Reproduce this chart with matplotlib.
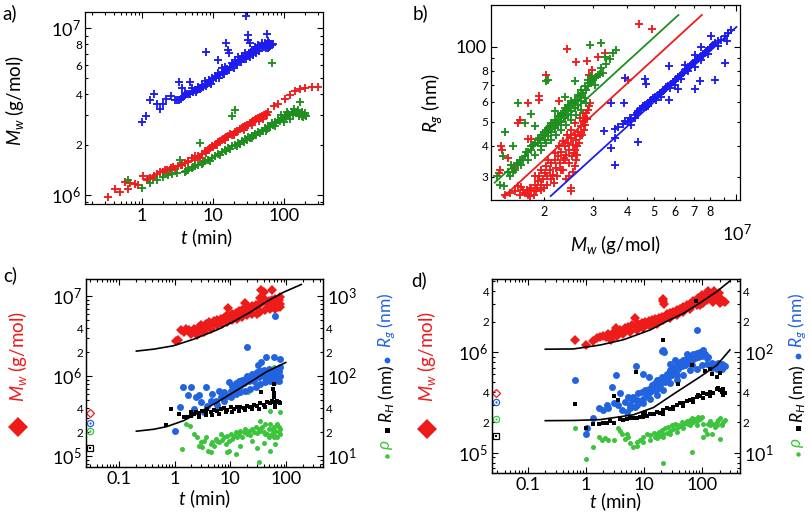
import numpy as np
import matplotlib
matplotlib.use("Agg")
import matplotlib.pyplot as plt
from matplotlib.lines import Line2D
from matplotlib.ticker import LogLocator, FuncFormatter, NullFormatter
import matplotlib.transforms as mtransforms

# ---------------- data ----------------
# panel a: t (min), Mw (10^6 g/mol)
a_blue = [(0.99, 2.75), (1.14, 2.95), (1.48, 4.02), (1.30, 3.72), (1.61, 3.52), (1.79, 3.27),
          (1.95, 3.50), (2.18, 3.75), (2.56, 3.89), (2.92, 3.72), (3.36, 4.72), (3.62, 4.37),
          (4.03, 4.07), (4.74, 4.72), (5.01, 4.37), (5.58, 4.27), (6.21, 4.43), (6.92, 4.57),
          (7.96, 7.24), (7.71, 4.79), (8.78, 4.90), (9.58, 5.01), (10.7, 5.13), (11.6, 6.40),
          (11.9, 5.37), (13.2, 5.75), (15.4, 8.20), (16.4, 7.41), (16.8, 7.08), (14.8, 5.83),
          (18.3, 6.17), (20.4, 6.46), (22.7, 6.70), (25.3, 6.76), (28.2, 7.08), (29.5, 11.75),
          (30.8, 9.12), (31.5, 8.51), (33.2, 8.13), (35.1, 7.41), (39.1, 7.69), (43.5, 7.94),
          (48.4, 8.13), (54.0, 8.13), (57.0, 9.25), (58.9, 7.94), (60.1, 8.32),
          (3.1, 3.7), (3.5, 3.75), (3.8, 3.85), (4.3, 4.0), (4.6, 4.05), (5.3, 4.15), (6.0, 4.25),
          (6.5, 4.3), (7.3, 4.45), (8.2, 4.6), (9.0, 4.75), (10.0, 4.9), (11.0, 5.0), (12.5, 5.2),
          (13.8, 5.4), (15.0, 5.55), (16.0, 5.7), (17.5, 5.85), (19.0, 6.0), (21.0, 6.2),
          (23.5, 6.4), (26.0, 6.6), (27.5, 6.55), (30.0, 6.9), (32.0, 7.0), (34.0, 7.15),
          (36.5, 7.2), (38.0, 7.35), (41.0, 7.5), (45.0, 7.6), (47.0, 7.75), (50.0, 7.8),
          (52.0, 7.7), (55.0, 7.9), (58.0, 8.0), (62.0, 8.1), (64.0, 7.85), (66.0, 8.0),
          (68.0, 7.95), (70.0, 8.0), (62.0, 7.7), (60.0, 7.6), (56.0, 7.55), (44.0, 7.3),
          (40.0, 7.1), (37.0, 6.9), (33.0, 6.75), (29.0, 6.5), (25.0, 6.3), (22.0, 6.05),
          (19.5, 5.8), (17.0, 5.6), (14.5, 5.3), (12.0, 5.05), (9.5, 4.65), (8.0, 4.5),
          (6.8, 4.35), (5.7, 4.15), (4.8, 4.0), (4.0, 3.95), (3.3, 3.7)]
a_red = [(0.336, 0.968), (0.417, 1.087), (0.490, 1.033), (0.576, 1.20), (0.642, 1.087),
         (0.678, 1.175), (0.797, 1.164), (0.888, 1.148), (1.04, 1.288), (1.16, 1.219),
         (1.30, 1.259), (1.44, 1.259), (1.61, 1.336), (1.79, 1.361), (2.0, 1.368), (2.22, 1.40),
         (2.48, 1.413), (2.76, 1.466), (2.92, 1.426), (3.25, 1.479), (3.62, 1.514), (4.03, 1.549),
         (4.49, 1.585), (5.01, 1.66), (5.58, 1.70), (6.21, 1.714), (6.92, 1.762), (7.71, 1.82),
         (8.59, 1.862), (9.58, 1.95), (10.7, 1.995), (11.9, 2.06), (13.2, 2.12), (14.8, 2.19),
         (16.4, 2.24), (18.3, 2.29), (20.4, 2.37), (22.7, 2.43), (25.3, 2.51), (28.2, 2.57),
         (31.5, 2.63), (35.1, 2.72), (39.1, 2.82), (43.5, 2.88), (48.4, 2.95), (60.1, 3.16),
         (73.1, 3.39), (83.2, 3.52), (103, 3.75), (122, 3.98), (143, 4.17), (168, 4.31),
         (198, 4.37), (245, 4.43), (305, 4.41),
         (8.0, 1.78), (9.0, 1.90), (10.0, 1.93), (11.0, 2.02), (12.5, 2.10), (14.0, 2.15),
         (15.5, 2.22), (17.5, 2.30), (19.5, 2.33), (21.5, 2.40), (24.0, 2.47), (26.5, 2.55),
         (30.0, 2.62), (33.0, 2.70), (37.0, 2.76), (41.0, 2.85), (46.0, 2.92), (52.0, 3.0),
         (55.0, 3.05), (58.0, 3.02), (50.0, 2.85), (44.0, 2.78), (36.0, 2.62), (27.0, 2.45),
         (20.0, 2.28), (15.0, 2.12), (11.5, 1.98), (6.5, 1.66), (5.5, 1.62), (4.5, 1.57),
         (3.5, 1.50), (2.6, 1.45), (2.1, 1.40), (1.5, 1.30), (1.2, 1.24)]
a_green = [(0.642, 1.219), (0.99, 1.096), (1.30, 1.175), (1.61, 1.219), (2.0, 1.27), (2.35, 1.306),
           (2.67, 1.33), (3.08, 1.349), (3.43, 1.622), (4.03, 1.361), (4.49, 1.413), (5.01, 1.445),
           (5.58, 1.479), (6.56, 2.04), (6.21, 1.514), (6.92, 1.535), (7.71, 1.585), (8.59, 1.622),
           (9.58, 1.66), (10.7, 1.70), (11.9, 1.762), (13.2, 1.795), (14.8, 1.862), (16.4, 1.905),
           (18.3, 1.95), (18.3, 2.98), (20.4, 3.24), (20.4, 1.995), (22.7, 2.04), (25.3, 2.09),
           (28.2, 2.16), (31.5, 2.22), (35.1, 2.26), (39.1, 2.32), (43.5, 2.37), (48.4, 2.43),
           (54.0, 2.51), (60.1, 2.57), (67.0, 2.69), (74.6, 2.75), (83.2, 2.82), (92.7, 2.88),
           (103, 2.98), (115, 3.06), (128, 3.12), (143, 3.16), (159, 3.24), (168, 3.58),
           (177, 2.98), (187, 2.92), (67.0, 6.17),
           (12.5, 1.74), (15.5, 1.84), (17.5, 1.88), (21.5, 1.97), (24.0, 2.02), (27.0, 2.08),
           (30.0, 2.14), (33.0, 2.19), (37.0, 2.24), (41.0, 2.29), (46.0, 2.34), (51.0, 2.40),
           (57.0, 2.48), (63.0, 2.55), (70.0, 2.62), (78.0, 2.70), (88.0, 2.78), (98.0, 2.85),
           (108, 2.93), (120, 3.00), (135, 3.05), (150, 3.10), (165, 3.05), (180, 3.12),
           (195, 3.0), (205, 2.95), (140, 3.25), (110, 3.15), (90.0, 3.0), (100, 2.75),
           (120, 2.85), (160, 2.95), (200, 3.1), (75.0, 2.6), (55.0, 2.42), (35.0, 2.2),
           (9.0, 1.60), (7.3, 1.55), (5.3, 1.46), (4.2, 1.39)]

# panel b: Mw (10^6 g/mol), Rg (nm)
b_red = [(4.42, 123.4), (4.93, 117.6), (2.42, 97.7), (2.60, 86.4), (2.86, 87.3), (3.14, 90.7),
         (3.32, 94.2), (2.98, 80.7), (2.03, 77.0), (1.92, 63.1), (1.92, 61.2), (2.27, 60.2),
         (1.744, 59.6), (1.627, 50.8), (1.60, 49.3), (1.395, 39.7), (1.40, 38.5), (1.47, 35.6),
         (1.744, 42.5), (1.79, 42.5), (1.55, 32.5), (1.376, 32.0), (1.37, 31.0), (2.508, 27.0),
         (2.508, 26.2), (2.615, 35.1), (2.63, 36.8), (4.03, 73.6), (2.91, 76.6),
         (1.435, 25.4), (1.50, 25.8), (1.56, 26.2), (1.627, 25.4), (1.67, 26.6), (1.695, 25.8),
         (1.744, 25.4), (1.77, 27.0), (1.79, 26.6), (1.845, 27.9), (1.87, 26.2), (1.897, 28.8),
         (1.92, 30.1), (1.95, 27.9), (1.98, 29.3), (2.006, 31.1), (2.03, 33.0), (2.05, 30.1),
         (2.09, 32.0), (2.121, 34.0), (2.15, 30.6), (2.181, 35.1), (2.21, 32.5), (2.243, 36.2),
         (2.275, 34.0), (2.307, 37.9), (2.34, 32.0), (2.372, 39.7), (2.385, 35.1), (2.405, 36.8),
         (2.439, 40.9), (2.45, 34.0), (2.47, 38.5), (2.508, 42.9), (2.52, 36.2), (2.54, 40.3),
         (2.579, 44.3), (2.59, 38.5), (2.615, 42.2), (2.652, 45.6), (2.67, 40.9), (2.69, 43.6),
         (2.728, 47.8), (2.74, 44.3), (2.76, 50.1), (2.79, 46.3), (2.805, 51.6), (2.82, 48.6),
         (2.845, 54.1), (2.87, 51.0), (2.884, 55.8), (2.90, 57.5), (2.925, 59.3), (2.565, 37.3),
         (2.64, 39.7), (2.36, 35.6), (2.30, 32.0), (2.23, 30.1), (2.17, 28.3), (2.11, 29.3),
         (2.05, 27.9), (2.0, 27.0), (1.94, 26.6), (1.886, 27.0), (1.835, 25.4), (1.78, 25.0),
         (1.73, 26.6), (1.649, 27.4), (1.60, 27.6), (1.845, 30.1), (1.95, 32.0), (2.062, 35.1),
         (2.181, 37.3), (2.255, 39.7), (2.34, 41.6), (2.425, 44.3), (2.508, 46.3), (2.59, 49.3),
         (2.69, 51.6), (2.76, 54.1), (2.54, 31.5), (2.59, 33.0), (2.47, 30.1), (2.405, 29.3)]
b_green = [(2.94, 101.7), (3.225, 103.3), (3.66, 97.1), (3.56, 94.2), (3.33, 90.7), (3.36, 85.4),
           (3.46, 89.2), (3.225, 82.0), (3.27, 78.3), (2.062, 73.6), (2.03, 73.1), (1.60, 59.6),
           (1.695, 49.3), (1.79, 53.8), (2.385, 62.7), (2.181, 55.0), (1.435, 45.6), (1.415, 36.2),
           (1.54, 39.9), (1.35, 30.1), (1.385, 27.9), (1.43, 27.6), (1.845, 47.8), (2.579, 72.5),
           (1.475, 31.5), (1.518, 33.3), (1.56, 32.0), (1.585, 34.0), (1.627, 35.1), (1.649, 33.5),
           (1.695, 36.2), (1.72, 37.9), (1.744, 35.1), (1.79, 38.5), (1.82, 40.3), (1.845, 36.8),
           (1.897, 40.9), (1.92, 42.9), (1.95, 39.7), (1.98, 44.3), (2.006, 42.2), (2.03, 46.3),
           (2.062, 43.6), (2.09, 47.8), (2.121, 45.6), (2.15, 49.3), (2.181, 47.0), (2.21, 50.8),
           (2.243, 48.6), (2.275, 52.4), (2.307, 49.9), (2.34, 54.1), (2.372, 51.6), (2.405, 55.8),
           (2.439, 53.1), (2.47, 57.5), (2.508, 54.9), (2.54, 59.3), (2.579, 56.6), (2.615, 61.2),
           (2.652, 58.5), (2.69, 63.1), (2.728, 60.2), (2.76, 65.1), (2.805, 62.1), (2.845, 67.1),
           (2.884, 69.2), (2.925, 71.4), (2.966, 72.5), (3.01, 73.6), (3.05, 74.7), (3.09, 75.4),
           (3.136, 76.9), (3.18, 77.6), (2.805, 69.2), (2.884, 73.6), (2.966, 75.9), (3.05, 70.4),
           (2.728, 67.1), (2.652, 64.1), (2.579, 61.2), (2.508, 60.2), (2.439, 58.4), (2.372, 56.6),
           (2.307, 53.8), (2.243, 52.4), (2.181, 50.8), (2.121, 49.3), (2.062, 47.0), (2.006, 45.6),
           (1.95, 44.3), (1.897, 42.2), (1.845, 40.9), (1.79, 39.7), (1.744, 37.9), (1.672, 35.1),
           (1.60, 33.3), (1.54, 31.5), (1.496, 30.1), (1.95, 38.5), (2.03, 40.9), (2.121, 42.2),
           (2.21, 44.3), (2.307, 46.3), (2.405, 48.6), (2.508, 50.8), (2.615, 53.1), (2.728, 55.8),
           (2.845, 59.3)]
b_blue = [(8.11, 110.6), (9.2, 105.4), (7.42, 99.5), (7.05, 92.7), (5.69, 83.8), (6.49, 84.5),
          (9.07, 85.9), (3.94, 74.7), (4.64, 74.2), (4.69, 71.0), (3.51, 59.3), (3.90, 59.3),
          (5.69, 60.8), (6.13, 67.6), (7.09, 67.6), (7.36, 72.8), (8.38, 73.6), (3.29, 45.9),
          (3.51, 39.3), (4.39, 41.2), (3.63, 33.3), (3.607, 42.9), (4.15, 48.5),
          (3.63, 46.7), (3.71, 47.6), (3.87, 48.9), (3.92, 50.4), (4.03, 49.9), (4.09, 51.6),
          (4.15, 50.8), (4.265, 53.3), (4.33, 54.1), (4.39, 55.0), (4.45, 56.1), (4.51, 55.4),
          (4.57, 57.5), (4.64, 58.4), (4.70, 57.2), (4.77, 59.3), (4.83, 60.2), (4.90, 60.8),
          (4.97, 62.1), (5.04, 62.6), (5.11, 61.1), (5.18, 64.0), (5.26, 64.9), (5.33, 65.3),
          (5.41, 66.4), (5.48, 67.6), (5.56, 68.7), (5.64, 69.5), (5.72, 68.2), (5.80, 71.0),
          (5.88, 72.1), (5.96, 72.7), (6.04, 74.3), (6.13, 75.2), (6.22, 76.5), (6.31, 77.2),
          (6.40, 78.7), (6.49, 80.7), (6.58, 81.2), (6.67, 82.6), (6.76, 83.7), (6.86, 84.5),
          (6.95, 85.9), (7.05, 87.3), (7.15, 88.6), (7.25, 89.2), (7.36, 90.7), (7.46, 91.3),
          (7.57, 92.8), (7.67, 94.2), (7.78, 95.7), (7.89, 97.1), (8.00, 98.6), (8.11, 100.1),
          (8.22, 101.7), (8.34, 103.3), (8.58, 104.9), (8.82, 106.6), (9.07, 109.9), (9.33, 113.7),
          (9.59, 116.4), (5.96, 69.9), (6.67, 79.9), (7.46, 88.1), (5.33, 62.9), (4.77, 57.5),
          (4.265, 51.6), (6.31, 74.3), (7.05, 83.2), (7.89, 93.7), (8.58, 100.7)]
# fitted power laws in panel b (end points)
b_fit_green = [(1.32, 28.4), (6.15, 134.0)]
b_fit_red = [(1.42, 24.9), (7.48, 134.0)]
b_fit_blue = [(2.11, 25.1), (10.0, 120.0)]

# panel c: t (min); Mw (10^6 g/mol) on left axis, Rg / RH / rho on right axis
c_mw = [(1.04, 2.76), (1.16, 2.87), (1.28, 3.75), (1.47, 3.57), (1.57, 3.94), (1.81, 3.75),
        (1.93, 3.40), (2.22, 3.94), (2.55, 3.68), (2.73, 4.13), (2.92, 4.33), (3.13, 3.75),
        (3.35, 4.05), (3.59, 4.54), (3.85, 4.21), (4.12, 4.77), (4.41, 4.33), (4.73, 4.54),
        (5.06, 4.90), (5.42, 4.63), (5.81, 5.10), (6.23, 4.77), (6.67, 5.25), (7.15, 5.00),
        (7.65, 5.40), (8.2, 5.10), (8.78, 5.78), (9.13, 7.2), (9.42, 5.51), (10.07, 5.62),
        (10.8, 5.95), (11.6, 5.78), (12.4, 6.18), (13.3, 5.95), (14.2, 6.54), (15.2, 6.18),
        (16.3, 6.67), (17.5, 6.36), (18.7, 7.0), (18.7, 8.25), (20.0, 6.67), (21.5, 7.2),
        (23.0, 7.0), (24.7, 7.5), (26.4, 7.35), (28.3, 7.7), (30.2, 7.5), (32.4, 8.09),
        (34.7, 7.93), (37.2, 8.5), (35.9, 12.1), (39.8, 11.3), (42.7, 8.91), (45.7, 8.25),
        (48.9, 8.75), (52.4, 8.09), (56.1, 9.1), (56.1, 11.9), (60.1, 8.5), (64.4, 9.35),
        (69.0, 8.75), (73.9, 9.1), (79.1, 8.09), (71.0, 7.35), (64.4, 7.0), (52.4, 7.0),
        (42.7, 6.67), (34.7, 6.36), (30.2, 6.06), (24.7, 5.95), (20.0, 5.78), (16.3, 5.51),
        (13.3, 5.25), (10.8, 5.00), (8.78, 4.77), (7.15, 4.54), (5.81, 4.33), (4.41, 3.94),
        (3.35, 3.57), (2.55, 3.33), (67.2, 7.7), (79.1, 7.35), (77.0, 9.8), (39.8, 9.35),
        (34.7, 9.6)]
c_rg = [(1.0, 20.6), (1.23, 41.9), (1.41, 73.2), (1.73, 59.2), (1.93, 73.2), (2.38, 54.8),
        (2.73, 59.2), (2.92, 47.5), (3.59, 73.2), (3.85, 43.1), (4.41, 48.9), (4.73, 60.4),
        (5.42, 49.8), (6.23, 66.4), (6.67, 54.8), (7.65, 63.4), (8.78, 57.5), (9.42, 84.5),
        (10.07, 66.4), (10.8, 76.8), (11.6, 69.7), (12.4, 82.0), (13.3, 73.2), (14.2, 87.0),
        (15.2, 76.8), (16.3, 90.4), (17.5, 82.0), (18.7, 93.1), (20.0, 102.3), (20.0, 236),
        (21.5, 87.0), (23.0, 97.6), (24.7, 107.5), (26.4, 88.7), (28.3, 102.3), (30.2, 112.7),
        (31.0, 140.6), (32.4, 97.6), (34.7, 116.0), (35.6, 150.4), (37.2, 105.4), (39.8, 120.5),
        (42.7, 97.6), (44.3, 173.8), (45.7, 112.7), (48.9, 124.1), (52.4, 102.3), (56.1, 118.3),
        (60.1, 107.5), (62.0, 173.8), (64.4, 562), (67.2, 124.1), (71.0, 97.6), (73.9, 116.0),
        (77.0, 165.6), (79.1, 130.2), (64.4, 88.7), (52.4, 88.7), (42.7, 84.5), (34.7, 80.5),
        (28.3, 73.2), (23.0, 69.7), (18.7, 66.4), (15.2, 63.4), (12.4, 60.4), (10.07, 54.8),
        (7.65, 49.8), (5.81, 44.3), (3.35, 35.6), (2.22, 39.1), (45.7, 97.6), (56.1, 97.6),
        (69.0, 107.5), (73.9, 88.7), (79.1, 102.3), (60.1, 92.9)]
c_rh = [(0.87, 39.2), (0.69, 24.9), (1.20, 33.9), (1.47, 30.8), (1.69, 31.2), (1.93, 31.9),
        (2.22, 33.9), (2.38, 35.6), (2.73, 34.6), (3.13, 37.3), (3.59, 36.6), (3.85, 39.2),
        (4.41, 35.6), (5.06, 38.0), (5.81, 37.3), (6.67, 39.2), (7.65, 40.3), (8.78, 38.0),
        (10.07, 41.1), (11.6, 39.2), (13.3, 41.1), (15.2, 41.9), (17.5, 40.3), (20.0, 43.1),
        (23.0, 41.9), (26.4, 44.4), (30.2, 43.1), (34.7, 46.1), (35.9, 63.7), (39.8, 44.4),
        (45.7, 47.5), (52.4, 46.1), (56.1, 49.8), (58.4, 69.7), (60.1, 54.8), (62.0, 80.5),
        (64.4, 45.2), (69.0, 48.9), (73.9, 47.5), (79.1, 46.1), (42.7, 41.1), (32.4, 39.2),
        (24.7, 39.2), (18.7, 38.0), (14.2, 37.3), (10.8, 36.3), (8.2, 35.6), (6.23, 33.9),
        (4.73, 32.6), (3.59, 32.6), (2.73, 31.2), (1.93, 35.6), (60.1, 62.2), (60.1, 47.5),
        (64.4, 41.1)]
c_rho = [(1.37, 12.4), (1.57, 25.4), (1.88, 24.2), (2.22, 19.1), (2.55, 17.3), (2.73, 13.6),
         (2.92, 15.0), (3.13, 13.0), (3.35, 15.7), (3.59, 17.6), (3.95, 11.8), (4.41, 14.3),
         (4.73, 15.0), (5.06, 13.6), (5.42, 16.5), (5.81, 15.7), (6.23, 15.0), (6.67, 19.1),
         (7.15, 16.0), (7.65, 17.3), (8.2, 14.3), (8.78, 18.2), (9.42, 15.7), (10.07, 19.1),
         (10.8, 16.5), (11.6, 18.2), (12.4, 20.0), (13.3, 17.3), (14.2, 19.1), (15.2, 21.0),
         (16.3, 17.6), (17.5, 20.0), (18.7, 22.0), (20.0, 19.1), (20.4, 63.4), (21.5, 21.0),
         (23.0, 18.7), (24.7, 22.0), (26.4, 20.0), (28.3, 23.1), (30.2, 19.5), (32.4, 22.0),
         (34.7, 28.0), (34.7, 21.0), (37.2, 23.1), (39.8, 20.0), (42.7, 25.4), (45.7, 19.1),
         (48.9, 22.0), (52.4, 25.4), (56.1, 19.1), (60.1, 23.1), (64.4, 21.0), (69.0, 25.4),
         (73.9, 20.0), (77.0, 35.6), (79.1, 22.0), (62.0, 132.7), (52.4, 37.3), (9.42, 11.8),
         (12.4, 10.7), (15.2, 13.6), (32.4, 8.4), (39.8, 14.6), (52.4, 11.8), (64.4, 14.3),
         (69.0, 17.3), (4.41, 11.3), (8.78, 11.3), (30.2, 12.8), (24.7, 15.7), (42.7, 19.1),
         (48.9, 17.3), (56.1, 22.0), (64.4, 18.2), (73.9, 23.1), (79.1, 19.1), (60.1, 17.3)]
c_fit_mw = [(0.206, 2.07), (0.426, 2.19), (0.946, 2.41), (2.22, 2.92), (5.81, 3.82), (11.2, 4.81),
            (23.0, 6.37), (44.4, 8.58), (90.8, 11.3), (188, 14.1)]
c_fit_rg = [(0.206, 20.6), (0.426, 21.8), (0.719, 23.5), (1.47, 28.0), (2.84, 35.9), (5.81, 47.5),
            (11.2, 62.8), (23.0, 85.3), (44.4, 113.8), (98.6, 149.0)]
c_start = {"t": 0.0303, "mw": 0.345, "rg": 26.4, "rho": 20.9, "rh": 12.7}

# panel d
d_mw = [(0.656, 1.30), (1.01, 1.18), (1.35, 1.28), (1.55, 1.36), (1.76, 1.39), (2.01, 1.43),
        (2.24, 1.41), (2.45, 1.50), (2.69, 1.39), (2.99, 1.56), (3.32, 1.74), (3.41, 1.58),
        (3.89, 1.64), (4.44, 1.58), (4.75, 1.71), (5.41, 1.77), (5.78, 1.66), (6.17, 1.84),
        (7.05, 2.16), (7.53, 1.79), (8.05, 1.91), (8.59, 1.84), (9.18, 1.94), (9.80, 1.88),
        (10.5, 1.98), (11.2, 1.91), (12.0, 2.03), (12.8, 1.94), (13.7, 2.06), (14.6, 1.98),
        (15.6, 2.14), (16.6, 2.06), (17.8, 2.16), (19.0, 2.08), (20.3, 2.24), (21.0, 3.20),
        (21.6, 3.37), (22.2, 3.01), (23.1, 2.22), (24.7, 2.36), (26.4, 2.24), (28.2, 2.45),
        (30.1, 2.31), (32.1, 2.50), (34.3, 2.40), (36.7, 2.59), (39.2, 2.50), (41.9, 2.69),
        (44.7, 2.59), (47.8, 2.79), (51.0, 2.69), (54.5, 2.90), (58.2, 2.79), (62.2, 3.01),
        (66.4, 3.06), (71.0, 3.20), (75.8, 3.13), (81.0, 3.25), (86.5, 3.44), (92.4, 3.30),
        (98.7, 3.64), (105, 3.44), (112, 3.55), (120, 3.78), (128, 4.05), (134, 3.85),
        (137, 3.64), (146, 3.72), (157, 3.50), (168, 3.64), (179, 3.44), (191, 3.55),
        (204, 3.37), (218, 3.30), (233, 3.20), (249, 3.13), (199, 3.85), (161, 4.05),
        (62.2, 2.69), (47.8, 2.50), (36.7, 2.31), (28.2, 2.16), (21.6, 2.06), (16.6, 1.91),
        (12.8, 1.79), (9.80, 1.74), (7.53, 1.66), (5.78, 1.56), (4.44, 1.50), (3.41, 1.43),
        (2.69, 1.30), (120, 3.25), (157, 3.13), (204, 3.06), (81.0, 2.90), (105, 3.06),
        (92.4, 2.90)]
d_rg = [(0.656, 53.2), (1.01, 15.5), (1.04, 17.4), (1.35, 21.9), (1.65, 27.5), (2.01, 26.5),
        (2.30, 29.6), (2.45, 27.5), (2.80, 45.0), (2.99, 30.8), (3.32, 58.8), (3.64, 29.6),
        (3.89, 38.7), (4.16, 26.5), (4.75, 32.0), (5.07, 25.5), (5.41, 35.8), (5.78, 27.5),
        (6.17, 33.2), (6.60, 35.8), (7.05, 28.5), (7.33, 72.1), (7.53, 33.2), (8.05, 38.7),
        (8.59, 32.0), (9.18, 40.2), (9.80, 34.5), (10.5, 41.7), (11.2, 37.2), (12.0, 43.3),
        (12.8, 40.2), (13.7, 46.8), (14.6, 41.7), (15.6, 48.6), (16.6, 43.3), (17.8, 52.4),
        (19.0, 46.8), (20.3, 56.6), (20.7, 102.3), (21.6, 103.9), (22.2, 100.0), (23.1, 50.5),
        (24.7, 61.0), (26.4, 54.5), (28.2, 65.8), (30.1, 58.8), (32.1, 71.0), (34.3, 63.4),
        (36.7, 73.7), (37.6, 58.8), (39.2, 68.4), (41.9, 79.6), (44.7, 72.1), (47.8, 82.7),
        (51.0, 73.7), (54.5, 86.0), (58.2, 78.1), (62.2, 90.6), (66.4, 82.7), (71.0, 94.9),
        (75.8, 86.0), (81.0, 97.9), (86.5, 89.2), (83.2, 164), (92.4, 100.0), (98.7, 90.6),
        (105, 103.9), (112, 94.9), (120, 86.0), (128, 89.2), (137, 73.7), (146, 78.1),
        (157, 76.3), (168, 72.6), (179, 75.3), (191, 78.1), (204, 73.7), (218, 76.3),
        (233, 73.7), (249, 72.1), (146, 69.4), (179, 68.4), (218, 67.4), (120, 75.3),
        (98.7, 73.7), (81.0, 67.4), (62.2, 65.8), (47.8, 58.8), (36.7, 52.4), (28.2, 48.6),
        (21.6, 41.7), (16.6, 37.2), (12.8, 34.5), (9.80, 30.8), (7.53, 29.6), (5.78, 29.6),
        (9.80, 61.0), (12.0, 56.6), (16.6, 52.4), (28.2, 76.6), (34.3, 82.7), (54.5, 94.9),
        (66.4, 73.7)]
d_rh = [(0.656, 30.3), (1.01, 17.8), (1.35, 19.5), (1.65, 19.5), (2.01, 19.8), (2.30, 19.8),
        (2.62, 20.5), (2.99, 36.4), (3.07, 19.8), (3.64, 33.2), (3.89, 21.6), (4.44, 21.1),
        (5.07, 21.6), (5.78, 21.9), (7.33, 63.4), (7.53, 21.9), (8.59, 22.7), (9.80, 22.7),
        (10.5, 25.5), (11.2, 23.1), (12.8, 24.5), (14.6, 24.2), (16.6, 25.5), (19.0, 24.9),
        (21.0, 130), (21.6, 26.5), (24.7, 27.5), (28.2, 26.9), (32.1, 28.5), (36.7, 29.6),
        (39.2, 47.9), (41.9, 30.8), (47.8, 31.2), (54.5, 32.7), (62.2, 33.2), (66.4, 73.7),
        (71.0, 34.5), (79.0, 320), (81.0, 35.8), (86.5, 37.2), (92.4, 36.4), (105, 38.7),
        (112, 64.8), (120, 38.1), (137, 40.2), (146, 61.0), (157, 39.3), (179, 42.4),
        (191, 44.3), (204, 41.7), (218, 40.2), (233, 42.4), (249, 38.7), (179, 56.6),
        (204, 61.9), (233, 37.2), (137, 36.4), (105, 35.3), (71.0, 32.0), (47.8, 29.0),
        (32.1, 26.9), (21.6, 24.5), (9.80, 24.2), (6.60, 22.3), (137, 68.4)]
d_rho = [(0.656, 17.4), (1.01, 8.59), (1.35, 11.5), (1.65, 14.2), (1.88, 13.4), (2.15, 13.9),
         (2.45, 13.4), (2.99, 13.4), (3.64, 17.4), (3.89, 16.5), (4.16, 15.5), (4.75, 13.6),
         (5.41, 14.2), (6.60, 11.5), (7.53, 11.7), (8.59, 13.4), (9.80, 14.4), (11.2, 15.5),
         (12.8, 14.9), (14.6, 15.7), (15.6, 14.4), (16.6, 15.5), (17.8, 16.1), (19.0, 14.6),
         (20.3, 16.8), (21.6, 15.5), (21.6, 7.84), (23.1, 17.4), (24.7, 15.7), (26.4, 18.1),
         (28.2, 16.5), (30.1, 18.8), (32.1, 17.1), (34.3, 19.5), (36.7, 17.4), (39.2, 18.8),
         (41.9, 18.4), (44.7, 20.3), (47.8, 18.8), (51.0, 19.8), (54.5, 20.7), (58.2, 19.5),
         (62.2, 21.1), (66.4, 21.9), (66.4, 10.1), (71.0, 20.3), (75.8, 21.4), (81.0, 20.7),
         (86.5, 22.7), (92.4, 21.4), (98.7, 22.4), (105, 14.4), (112, 16.8), (120, 15.5),
         (128, 19.5), (137, 20.7), (146, 15.5), (157, 19.5), (168, 18.1), (179, 20.3),
         (191, 21.1), (204, 13.6), (218, 19.5), (233, 20.3), (249, 21.1), (204, 21.9),
         (179, 18.8), (137, 18.8), (105, 19.5), (81.0, 18.8), (62.2, 18.8), (47.8, 17.4),
         (36.7, 16.1), (28.2, 15.5), (21.6, 14.2), (16.6, 13.9), (12.8, 13.4), (9.80, 12.9),
         (7.53, 12.9), (5.78, 12.4), (5.07, 15.5), (218, 18.8)]
d_fit_mw = [(0.2, 1.063), (0.614, 1.07), (1.76, 1.17), (4.44, 1.32), (12.8, 1.65), (24.7, 2.01),
            (47.8, 2.41), (92.4, 3.06), (179, 3.96), (302, 5.05)]
d_fit_rg = [(0.2, 20.8), (0.614, 20.9), (1.76, 21.3), (6.60, 23.8), (14.6, 28.1), (32.1, 38.1),
            (92.4, 56.6), (179, 73.7), (302, 104.7)]
d_start = {"t": 0.0287, "mw": 0.387, "rg": 31.7, "rho": 21.6, "rh": 14.6}

BLUE = "#1c1cf0"
RED = "#f01c1c"
GREEN = "#1e8f1e"
C_RED = "#ee1b1b"
C_BLUE = "#2263e0"
C_GREEN = "#3cc43c"

# ---------------- style ----------------
plt.rcParams["font.family"] = ["Lato", "DejaVu Sans"]
plt.rcParams["mathtext.fontset"] = "custom"
plt.rcParams["mathtext.rm"] = "Lato"
plt.rcParams["mathtext.it"] = "Lato:italic"
plt.rcParams["mathtext.bf"] = "Lato:bold"
plt.rcParams["axes.linewidth"] = 0.9

W, H = 810, 522
fig = plt.figure(figsize=(W / 100, H / 100), dpi=100)


def box(x0, y0, x1, y1):
    return [x0 / W, 1 - y1 / H, (x1 - x0) / W, (y1 - y0) / H]


def xy(pairs, scale=1.0):
    arr = np.array(pairs, dtype=float)
    return arr[:, 0], arr[:, 1] * scale


def plain_fmt(v, pos):
    return "%g" % v


def pow_fmt(v, pos):
    return r"$10^{%d}$" % int(round(np.log10(v)))


def minor_fmt(keep):
    def f(v, pos):
        if v <= 0:
            return ""
        m = int(round(v / 10 ** np.floor(np.log10(v) + 1e-9)))
        return str(m) if m in keep else ""
    return FuncFormatter(f)


def set_log_axis(axis, major, keep):
    axis.set_major_locator(LogLocator(base=10, numticks=30))
    axis.set_minor_locator(LogLocator(base=10, subs=np.arange(2, 10), numticks=30))
    axis.set_major_formatter(FuncFormatter(major) if major else NullFormatter())
    axis.set_minor_formatter(minor_fmt(keep))


def ticks(ax, **kw):
    ax.tick_params(which="both", direction="in", width=0.8, **kw)
    ax.tick_params(which="major", length=4.5, labelsize=13, pad=3)
    ax.tick_params(which="minor", length=2.3, labelsize=8.5, pad=2)


def ftext(x, y, s, **kw):
    kw.setdefault("ha", "center")
    kw.setdefault("va", "center")
    fig.text(x / W, 1 - y / H, s, **kw)


def fmark(x, y, **kw):
    fig.add_artist(Line2D([x / W], [1 - y / H], transform=fig.transFigure, ls="none", **kw))


plus = dict(ls="none", marker="+", ms=6, mew=1.35)

# ---------------- panel a ----------------
ax = fig.add_axes(box(85, 12, 323, 204))
ax.set_xscale("log")
ax.set_yscale("log")
for pairs, col in [(a_blue, BLUE), (a_red, RED), (a_green, GREEN)]:
    t, m = xy(pairs, 1e6)
    ax.plot(t, m, color=col, **plus)
ax.set_xlim(0.158, 354)
ax.set_ylim(8.8e5, 1.25e7)
set_log_axis(ax.xaxis, plain_fmt, [])
set_log_axis(ax.yaxis, pow_fmt, [2, 4, 6, 8])
ticks(ax, top=True, right=True)

# ---------------- panel b ----------------
ax = fig.add_axes(box(491, 5, 740, 200))
ax.set_xscale("log")
ax.set_yscale("log")
for pairs, col in [(b_red, RED), (b_green, GREEN), (b_blue, BLUE)]:
    m, r = xy([(p[0] * 1e6, p[1]) for p in pairs])
    ax.plot(m, r, color=col, **plus)
for pairs, col in [(b_fit_green, GREEN), (b_fit_red, RED), (b_fit_blue, BLUE)]:
    m, r = xy([(p[0] * 1e6, p[1]) for p in pairs])
    ax.plot(m, r, color=col, lw=1.3)
ax.set_xlim(1.28e6, 1.03e7)
ax.set_ylim(24.2, 147)
set_log_axis(ax.xaxis, None, [2, 3, 4, 5, 6, 7, 8])
set_log_axis(ax.yaxis, plain_fmt, [3, 4, 5, 6, 7, 8])
ticks(ax, top=True, right=True)
ax.tick_params(axis="x", which="minor", labelsize=9, pad=4)
ax.text(1e7, -0.17, r"$10^7$", fontsize=13, ha="center", va="center",
        transform=mtransforms.blended_transform_factory(ax.transData, ax.transAxes))


# ---------------- panels c, d ----------------
def growth_panel(rect, xlim, ylim, mw, rg, rh, rho, fit_mw, fit_rg, start):
    ax = fig.add_axes(rect)
    ax.set_xscale("log")
    ax.set_yscale("log")
    ax2 = ax.twinx()
    ax2.set_yscale("log")
    t, v = xy(rho)
    ax2.plot(t, v, ls="none", marker="o", ms=3.6, mew=0, color=C_GREEN)
    t, v = xy(rg)
    ax2.plot(t, v, ls="none", marker="o", ms=5.0, mew=0, color=C_BLUE)
    t, v = xy(rh)
    ax2.plot(t, v, ls="none", marker="s", ms=2.4, mew=0, color="black")
    t, v = xy(mw, 1e6)
    ax.plot(t, v, ls="none", marker="D", ms=4.6, mew=0, color=C_RED)
    t, v = xy(fit_mw, 1e6)
    ax.plot(t, v, color="black", lw=1.2)
    t, v = xy(fit_rg)
    ax2.plot(t, v, color="black", lw=1.2)
    # open symbols at the left edge
    ts = start["t"]
    ax.plot([ts], [start["mw"] * 1e6], ls="none", marker="D", ms=4.5, mfc="none", mec=C_RED, mew=0.9)
    for key, col, mk in [("rg", C_BLUE, "o"), ("rho", C_GREEN, "o"), ("rh", "black", "s")]:
        ax2.plot([ts], [start[key]], ls="none", marker=mk, ms=4.5, mfc="none", mec=col, mew=0.9)
        ax2.plot([ts], [start[key]], ls="none", marker=mk, ms=1.6, mfc=col, mec=col, mew=0)
    ax.set_xlim(*xlim)
    ax.set_ylim(*ylim)
    ax2.set_ylim(ylim[0] / 1e4, ylim[1] / 1e4)
    set_log_axis(ax.xaxis, plain_fmt, [])
    set_log_axis(ax.yaxis, pow_fmt, [2, 4])
    set_log_axis(ax2.yaxis, pow_fmt, [2, 4])
    ticks(ax, top=True, right=False)
    ticks(ax2, left=False, right=True)
    return ax


growth_panel(box(86, 279, 323, 467), (0.0257, 460), (7.35e4, 1.65e7),
             c_mw, c_rg, c_rh, c_rho, c_fit_mw, c_fit_rg, c_start)
growth_panel(box(492, 279, 740, 473), (0.0242, 450), (6.3e4, 5.28e6),
             d_mw, d_rg, d_rh, d_rho, d_fit_mw, d_fit_rg, d_start)

# ---------------- labels ----------------
lab = dict(fontsize=13.5)
side = dict(fontsize=12.5)
ftext(15, 101, r"$M_w$ (g/mol)", rotation=90, **lab)
ftext(207, 238, r"$t$ (min)", **lab)
ftext(432, 103, r"$R_g$ (nm)", rotation=90, **lab)
ftext(615, 245, r"$M_w$ (g/mol)", **lab)
ftext(205, 499, r"$t$ (min)", **lab)
ftext(616, 502, r"$t$ (min)", **lab)

for x_left, x_right, dy in [(18, 387, 0), (427, 798, -1)]:
    fmark(x_left, 427 + 2 * (dy != 0), marker="D", ms=10, mew=0, color=C_RED)
    ftext(x_left, 357, r"$M_w$ (g/mol)", rotation=90, color=C_RED, **lab)
    fmark(x_right, 456 + dy * 2, marker="o", ms=3.2, mew=0, color=C_GREEN)
    ftext(x_right, 445 + dy * 2, r"$\rho$", rotation=90, color=C_GREEN, **side)
    fmark(x_right, 430 + dy * 2, marker="s", ms=3.6, mew=0, color="black")
    ftext(x_right, 394, r"$R_H$ (nm)", rotation=90, color="black", **side)
    fmark(x_right, 360 + dy * 4, marker="o", ms=4.2, mew=0, color=C_BLUE)
    ftext(x_right, 320, r"$R_g$ (nm)", rotation=90, color=C_BLUE, **side)

ftext(10, 13, "a)", fontsize=13.5)
ftext(420, 13, "b)", fontsize=13.5)
ftext(10, 275, "c)", fontsize=13.5)
ftext(419, 280, "d)", fontsize=13.5)

fig.savefig("out.png", dpi=100)
